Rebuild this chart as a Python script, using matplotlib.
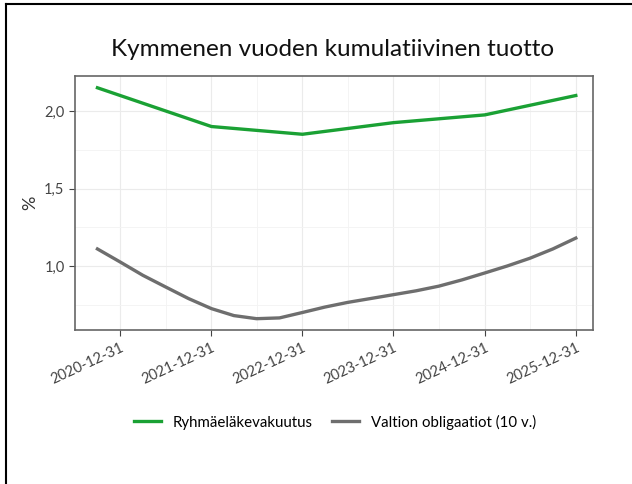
import numpy as np
import pandas as pd
import matplotlib
matplotlib.use("Agg")
import matplotlib.pyplot as plt
from matplotlib.lines import Line2D

plt.rcParams['font.family'] = ['Lato', 'DejaVu Sans']

# data
green_dates = ['2020-09-30', '2021-12-31', '2022-12-31', '2023-12-31', '2024-12-31', '2025-12-31']
green_vals = [2.15, 1.90, 1.85, 1.925, 1.975, 2.10]

grey_dates = pd.date_range('2020-09-30', '2025-12-31', freq='QE')
grey_vals = [1.11, 1.025, 0.94, 0.865, 0.79, 0.725, 0.68, 0.66, 0.665, 0.70,
             0.735, 0.765, 0.79, 0.815, 0.84, 0.87, 0.91, 0.955, 1.00, 1.05,
             1.11, 1.18]

tick_dates = ['2020-12-31', '2021-12-31', '2022-12-31', '2023-12-31', '2024-12-31', '2025-12-31']

labels = ['Ryhmäeläkevakuutus', 'Valtion obligaatiot (10 v.)']
colors = ['#1aa134', '#6e6e6e']

fig = plt.figure(figsize=(6.32, 4.84), dpi=100)
ax = fig.add_axes([75/632, 1 - 330/484, (593-75)/632, (330-76)/484])

ax.plot(pd.to_datetime(green_dates), green_vals, color=colors[0], lw=2.4)
ax.plot(grey_dates, grey_vals, color=colors[1], lw=2.4)

ax.set_ylim(0.587, 2.226)
ax.set_xlim(pd.Timestamp('2020-07-02'), pd.Timestamp('2026-03-10'))
ax.set_yticks([1.0, 1.5, 2.0])
ax.set_yticklabels(['1,0', '1,5', '2,0'])
ax.set_yticks([0.75, 1.25, 1.75], minor=True)
ticks = pd.to_datetime(tick_dates)
ax.set_xticks(ticks)
ax.set_xticklabels(tick_dates, rotation=25, ha='right', rotation_mode='anchor')
minor = ticks[:-1] + (ticks[1:] - ticks[:-1]) / 2
ax.set_xticks(minor, minor=True)
ax.grid(True, which='major', color='#ebebeb', lw=0.8)
ax.grid(True, which='minor', color='#f3f3f3', lw=0.6)
ax.tick_params(which='minor', length=0)
ax.tick_params(which='major', length=4, color='#444444', labelsize=10.5, labelcolor='#444444')
for s in ax.spines.values():
    s.set_color('#666666')
    s.set_linewidth(1.2)
ax.set_ylabel('%', fontsize=13, color='#333333')

fig.text(333/632, 1 - 50/484, 'Kymmenen vuoden kumulatiivinen tuotto',
         ha='center', va='center', fontsize=17.5, color='#111111')

handles = [Line2D([], [], color=c, lw=2.4) for c in colors]
fig.legend(handles, labels, loc='center', bbox_to_anchor=(335/632, 1 - 422/484),
           ncol=2, frameon=False, fontsize=10.8, handlelength=1.8, columnspacing=1.3)

# outer frame (left and top)
fig.add_artist(Line2D([6/632, 6/632], [0, 1 - 4/484], color='black', lw=1.5))
fig.add_artist(Line2D([6/632, 1], [1 - 4/484, 1 - 4/484], color='black', lw=1.5))

fig.savefig('out.png', dpi=100)
